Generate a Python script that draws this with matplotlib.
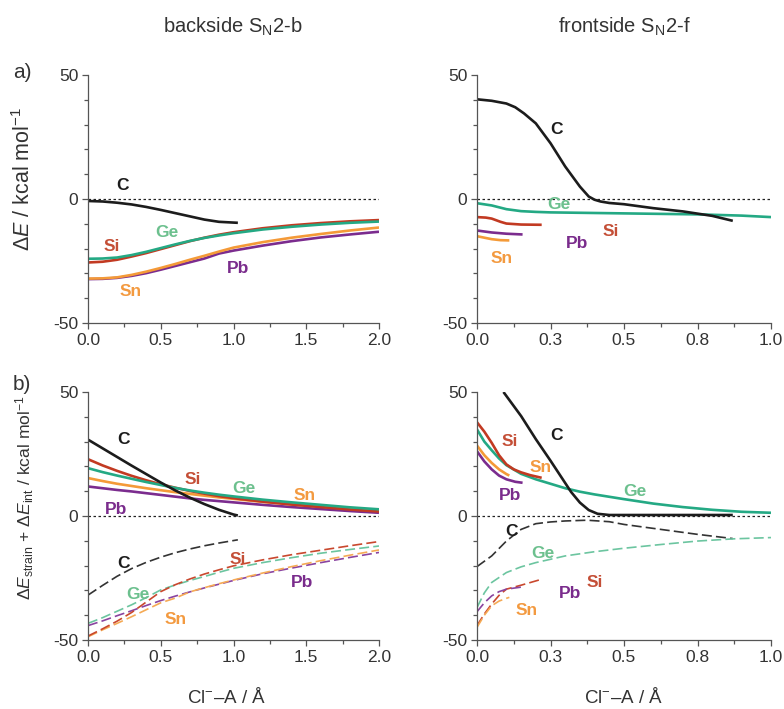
import numpy as np
import matplotlib
matplotlib.use("Agg")
import matplotlib.pyplot as plt
from matplotlib.ticker import MultipleLocator

plt.rcParams["font.family"] = ["Liberation Sans", "DejaVu Sans"]
plt.rcParams["mathtext.fontset"] = "custom"
plt.rcParams["mathtext.rm"] = "Liberation Sans"
plt.rcParams["mathtext.it"] = "Liberation Sans:italic"
plt.rcParams["mathtext.bf"] = "Liberation Sans:bold"
plt.rcParams["axes.unicode_minus"] = False

# ---- a) backside: ΔE ----
ab_c_x = [0, 0.1, 0.2, 0.3, 0.4, 0.5, 0.6, 0.7, 0.8, 0.9, 1.03]
ab_c_y = [-0.8, -1.0, -1.5, -2.2, -3.2, -4.4, -5.7, -7.0, -8.3, -9.2, -9.6]
ab_x = [0, 0.1, 0.2, 0.3, 0.4, 0.5, 0.6, 0.7, 0.8, 0.9, 1.0, 1.2, 1.4, 1.6, 1.8, 2.0]
ab_si = [-25.6, -25.3, -24.5, -23.2, -21.8, -20.2, -18.6, -17.0, -15.6, -14.4, -13.4, -11.8, -10.6, -9.7, -9.0, -8.5]
ab_ge = [-24.1, -24.0, -23.6, -22.6, -21.3, -19.8, -18.3, -16.9, -15.7, -14.7, -13.8, -12.3, -11.2, -10.3, -9.6, -9.1]
ab_sn = [-32.1, -32.0, -31.6, -30.6, -29.3, -27.8, -26.2, -24.5, -22.9, -21.2, -19.6, -17.4, -15.6, -14.1, -12.7, -11.5]
ab_pb = [-32.3, -32.2, -31.8, -31.0, -29.9, -28.5, -27.0, -25.5, -24.0, -22.0, -20.8, -18.8, -17.0, -15.5, -14.3, -13.2]

# ---- a) frontside: ΔE ----
af_c_x = [0, 0.05, 0.1, 0.13, 0.16, 0.2, 0.25, 0.3, 0.35, 0.38, 0.4, 0.42, 0.45, 0.5, 0.6, 0.7, 0.8, 0.87]
af_c_y = [40.2, 39.6, 38.5, 37.0, 34.5, 30.5, 22.5, 13.1, 5.0, 1.0, -0.3, -1.0, -1.6, -2.1, -3.7, -5.0, -6.8, -8.8]
af_ge_x = [0, 0.05, 0.1, 0.15, 0.2, 0.25, 0.5, 0.75, 0.9, 1.0]
af_ge_y = [-1.7, -2.6, -4.1, -4.9, -5.2, -5.4, -5.8, -6.2, -6.7, -7.3]
af_si_x = [0, 0.03, 0.05, 0.08, 0.1, 0.15, 0.22]
af_si_y = [-7.3, -7.5, -7.9, -9.2, -9.9, -10.3, -10.4]
af_pb_x = [0, 0.05, 0.1, 0.155]
af_pb_y = [-12.7, -13.5, -14.0, -14.3]
af_sn_x = [0, 0.05, 0.08, 0.11]
af_sn_y = [-15.0, -16.2, -16.6, -16.7]

# ---- b) backside: strain (solid) + interaction (dashed) ----
bb_c_x = [0, 0.1, 0.2, 0.3, 0.4, 0.5, 0.6, 0.7, 0.8, 0.9, 1.0, 1.03]
bb_c_s = [30.8, 27.3, 23.8, 20.3, 16.9, 13.5, 10.3, 7.4, 4.8, 2.5, 0.6, 0.2]
bb_cd_x = [0, 0.1, 0.2, 0.3, 0.4, 0.5, 0.6, 0.7, 0.8, 0.9, 1.03]
bb_c_i = [-31.9, -28.0, -24.3, -21.2, -18.7, -16.6, -14.8, -13.3, -12.0, -10.9, -9.6]
bb_x = [0, 0.1, 0.2, 0.3, 0.4, 0.5, 0.6, 0.7, 0.8, 0.9, 1.0, 1.2, 1.4, 1.6, 1.8, 2.0]
bb_si_s = [22.9, 20.4, 18.2, 16.2, 14.4, 12.8, 11.4, 10.1, 9.0, 8.0, 7.2, 5.8, 4.6, 3.6, 2.6, 1.8]
bb_ge_s = [19.3, 17.7, 16.3, 15.0, 13.7, 12.5, 11.3, 10.3, 9.4, 8.6, 7.9, 6.6, 5.5, 4.5, 3.5, 2.7]
bb_sn_s = [15.3, 14.1, 13.0, 12.1, 11.2, 10.4, 9.6, 8.9, 8.2, 7.5, 6.9, 5.7, 4.7, 3.8, 2.9, 2.2]
bb_pb_s = [11.9, 11.2, 10.5, 9.9, 9.2, 8.5, 7.8, 7.1, 6.5, 6.0, 5.5, 4.5, 3.6, 2.8, 2.0, 1.3]
bb_si_i = [-48.4, -45.5, -42.4, -38.9, -34.7, -30.5, -27.7, -25.4, -23.4, -21.7, -20.1, -17.7, -15.6, -13.8, -12.0, -10.3]
bb_ge_i = [-43.3, -41.0, -38.4, -35.8, -32.9, -29.8, -27.8, -26.0, -24.4, -22.7, -21.1, -18.8, -16.8, -15.0, -13.5, -12.1]
bb_sn_i = [-48.7, -45.9, -43.3, -40.6, -37.8, -35.0, -33.1, -30.6, -28.9, -27.3, -25.8, -23.0, -20.4, -18.0, -15.8, -13.7]
bb_pb_i = [-44.2, -42.3, -40.2, -38.2, -36.1, -34.1, -32.3, -30.6, -29.0, -27.5, -26.0, -23.3, -21.0, -18.8, -16.7, -14.7]

# ---- b) frontside ----
bf_c_x = [0.09, 0.15, 0.2, 0.25, 0.3, 0.32, 0.35, 0.38, 0.41, 0.45, 0.5, 0.6, 0.7, 0.8, 0.87]
bf_c_s = [50.0, 40.3, 31.0, 22.3, 13.3, 9.7, 5.4, 2.4, 0.9, 0.4, 0.4, 0.4, 0.4, 0.4, 0.4]
bf_ge_x = [0, 0.025, 0.05, 0.075, 0.1, 0.15, 0.2, 0.25, 0.3, 0.35, 0.4, 0.5, 0.6, 0.7, 0.8, 0.9, 1.0]
bf_ge_s = [34.9, 30.0, 26.5, 23.2, 20.5, 17.0, 14.8, 13.0, 11.2, 9.8, 8.7, 6.8, 5.0, 3.6, 2.5, 1.7, 1.3]
bf_si_x = [0, 0.025, 0.05, 0.075, 0.1, 0.125, 0.15, 0.18, 0.22]
bf_si_s = [37.8, 34.0, 29.5, 24.5, 20.8, 18.8, 17.6, 16.5, 15.4]
bf_sn_x = [0, 0.025, 0.05, 0.075, 0.1, 0.11]
bf_sn_s = [28.4, 24.5, 21.4, 18.8, 16.9, 16.3]
bf_pb_x = [0, 0.025, 0.05, 0.075, 0.1, 0.13, 0.155]
bf_pb_s = [26.1, 22.0, 18.8, 16.3, 14.8, 13.8, 13.4]
bf_cd_x = [0, 0.05, 0.1, 0.15, 0.2, 0.25, 0.3, 0.375, 0.45, 0.5, 0.625, 0.75, 0.87]
bf_c_i = [-20.4, -16.1, -10.1, -5.4, -3.1, -2.4, -2.0, -1.7, -2.3, -3.4, -5.4, -7.4, -9.1]
bf_ged_x = [0, 0.025, 0.05, 0.1, 0.15, 0.2, 0.3, 0.4, 0.5, 0.625, 0.75, 0.875, 1.0]
bf_ge_i = [-36.9, -31.0, -26.8, -22.8, -20.5, -18.8, -16.1, -14.4, -13.0, -11.5, -10.1, -9.2, -8.7]
bf_sid_x = [0, 0.025, 0.05, 0.075, 0.1, 0.15, 0.22]
bf_si_i = [-44.2, -39.5, -35.5, -32.0, -29.5, -27.9, -25.5]
bf_pbd_x = [0, 0.025, 0.05, 0.075, 0.1, 0.155]
bf_pb_i = [-38.6, -35.0, -32.2, -30.5, -29.5, -28.6]
bf_snd_x = [0, 0.025, 0.05, 0.075, 0.1, 0.11]
bf_sn_i = [-44.9, -40.0, -36.2, -34.3, -33.2, -32.8]

col = {"C": "#1c1c1c", "Si": "#c23a22", "Ge": "#24a984", "Sn": "#f49a38", "Pb": "#7b2c8e"}
lab_col = {"C": "#1c1c1c", "Si": "#c44f37", "Ge": "#6cc08e", "Sn": "#f39a40", "Pb": "#7a2c8c"}
dash_col = {"C": "#333333", "Si": "#c9482e", "Ge": "#6cc5a0", "Sn": "#f5aa55", "Pb": "#8a44a0"}


def style_axes(ax, xmax, front):
    ax.set_xlim(0, xmax)
    ax.set_ylim(-50, 50)
    for s in ("top", "right"):
        ax.spines[s].set_visible(False)
    for s in ("left", "bottom"):
        ax.spines[s].set_color("#555555")
        ax.spines[s].set_linewidth(0.9)
    ax.set_yticks([-50, 0, 50])
    ax.yaxis.set_minor_locator(MultipleLocator(10))
    if front:
        ax.set_xticks([0, 0.25, 0.5, 0.75, 1.0])
        ax.set_xticklabels(["0.0", "0.3", "0.5", "0.8", "1.0"])
        ax.xaxis.set_minor_locator(MultipleLocator(0.125))
    else:
        ax.set_xticks([0, 0.5, 1.0, 1.5, 2.0])
        ax.set_xticklabels(["0.0", "0.5", "1.0", "1.5", "2.0"])
        ax.xaxis.set_minor_locator(MultipleLocator(0.25))
    ax.tick_params(which="both", direction="out", color="#555555", width=0.9,
                   labelsize=12.5, labelcolor="#333333", pad=3)
    ax.tick_params(which="major", length=4)
    ax.tick_params(which="minor", length=3)
    ax.axhline(0, color="#222222", lw=0.9, ls=(0, (2, 2)), zorder=1)


def solid(ax, x, y, el):
    ax.plot(x, y, color=col[el], lw=1.9, solid_capstyle="butt")


def dashed(ax, x, y, el):
    ax.plot(x, y, color=dash_col[el], lw=1.2, ls=(0, (6, 2.5)))


def label(ax, x, y, el):
    ax.text(x, y, el, color=lab_col[el], fontsize=12.5, fontweight="bold",
            ha="center", va="center")


fig = plt.figure(figsize=(7.84, 7.09), dpi=100)
W, H = 784, 709


def add_axes(x0, x1, y0, y1):
    return fig.add_axes([x0 / W, 1 - y1 / H, (x1 - x0) / W, (y1 - y0) / H])


ax1 = add_axes(88, 379, 75, 323)
ax2 = add_axes(477, 771, 75, 323)
ax3 = add_axes(88, 379, 392, 640)
ax4 = add_axes(477, 771, 392, 640)

# a) backside
style_axes(ax1, 2.0, False)
solid(ax1, ab_c_x, ab_c_y, "C")
solid(ax1, ab_x, ab_pb, "Pb")
solid(ax1, ab_x, ab_sn, "Sn")
solid(ax1, ab_x, ab_si, "Si")
solid(ax1, ab_x, ab_ge, "Ge")
label(ax1, 0.24, 5.4, "C")
label(ax1, 0.54, -13.5, "Ge")
label(ax1, 0.16, -19.1, "Si")
label(ax1, 1.03, -27.9, "Pb")
label(ax1, 0.29, -37.2, "Sn")

# a) frontside
style_axes(ax2, 1.0, True)
solid(ax2, af_ge_x, af_ge_y, "Ge")
solid(ax2, af_c_x, af_c_y, "C")
solid(ax2, af_si_x, af_si_y, "Si")
solid(ax2, af_pb_x, af_pb_y, "Pb")
solid(ax2, af_sn_x, af_sn_y, "Sn")
label(ax2, 0.27, 28.1, "C")
label(ax2, 0.28, -2.3, "Ge")
label(ax2, 0.455, -13.1, "Si")
label(ax2, 0.34, -18.1, "Pb")
label(ax2, 0.084, -23.8, "Sn")

# b) backside
style_axes(ax3, 2.0, False)
solid(ax3, bb_x, bb_pb_s, "Pb")
solid(ax3, bb_x, bb_sn_s, "Sn")
solid(ax3, bb_x, bb_si_s, "Si")
solid(ax3, bb_x, bb_ge_s, "Ge")
solid(ax3, bb_c_x, bb_c_s, "C")
dashed(ax3, bb_cd_x, bb_c_i, "C")
dashed(ax3, bb_x, bb_pb_i, "Pb")
dashed(ax3, bb_x, bb_sn_i, "Sn")
dashed(ax3, bb_x, bb_ge_i, "Ge")
dashed(ax3, bb_x, bb_si_i, "Si")
label(ax3, 0.245, 31.0, "C")
label(ax3, 0.72, 14.9, "Si")
label(ax3, 1.07, 11.2, "Ge")
label(ax3, 1.49, 8.1, "Sn")
label(ax3, 0.195, 2.8, "Pb")
label(ax3, 0.245, -19.3, "C")
label(ax3, 1.03, -17.4, "Si")
label(ax3, 0.34, -31.8, "Ge")
label(ax3, 1.47, -26.9, "Pb")
label(ax3, 0.60, -41.7, "Sn")

# b) frontside
style_axes(ax4, 1.0, True)
solid(ax4, bf_ge_x, bf_ge_s, "Ge")
solid(ax4, bf_pb_x, bf_pb_s, "Pb")
solid(ax4, bf_sn_x, bf_sn_s, "Sn")
solid(ax4, bf_si_x, bf_si_s, "Si")
solid(ax4, bf_c_x, bf_c_s, "C")
dashed(ax4, bf_cd_x, bf_c_i, "C")
dashed(ax4, bf_ged_x, bf_ge_i, "Ge")
dashed(ax4, bf_sid_x, bf_si_i, "Si")
dashed(ax4, bf_pbd_x, bf_pb_i, "Pb")
dashed(ax4, bf_snd_x, bf_sn_i, "Sn")
label(ax4, 0.272, 32.4, "C")
label(ax4, 0.11, 30.2, "Si")
label(ax4, 0.215, 19.7, "Sn")
label(ax4, 0.113, 8.3, "Pb")
label(ax4, 0.536, 9.9, "Ge")
label(ax4, 0.117, -6.4, "C")
label(ax4, 0.224, -15.0, "Ge")
label(ax4, 0.40, -26.8, "Si")
label(ax4, 0.315, -31.2, "Pb")
label(ax4, 0.168, -38.2, "Sn")

# titles, axis labels, panel letters
txt = dict(color="#333333")
fig.text(233 / W, 1 - 27 / H, r"backside S$_{\mathrm{N}}$2-b", ha="center", va="center", fontsize=14.5, **txt)
fig.text(624 / W, 1 - 27 / H, r"frontside S$_{\mathrm{N}}$2-f", ha="center", va="center", fontsize=14.5, **txt)
fig.text(22 / W, 1 - 73 / H, "a)", ha="center", va="center", fontsize=15, **txt)
fig.text(22 / W, 1 - 384 / H, "b)", ha="center", va="center", fontsize=15, **txt)
yl1 = fig.text(24 / W, 1 - 179 / H, r"$\Delta E$ / kcal mol$^{-1}$", rotation=90,
               ha="center", va="center", fontsize=14, **txt)
yl2 = fig.text(25 / W, 1 - 498 / H,
               r"$\Delta E_{\mathrm{strain}}$ + $\Delta E_{\mathrm{int}}$ / kcal mol$^{-1}$",
               rotation=90, ha="center", va="center", fontsize=14, **txt)
fig.text(227 / W, 1 - 697 / H, r"Cl$^{-}$–A / Å", ha="center", va="center", fontsize=13.5, **txt)
fig.text(624 / W, 1 - 697 / H, r"Cl$^{-}$–A / Å", ha="center", va="center", fontsize=13.5, **txt)

# fit the rotated y labels to roughly the length they have in the source figure
fig.canvas.draw()
r = fig.canvas.get_renderer()
for t, target in ((yl1, 145), (yl2, 205)):
    h = t.get_window_extent(r).height
    t.set_fontsize(t.get_fontsize() * target / h)

fig.savefig("out.png", dpi=100)
